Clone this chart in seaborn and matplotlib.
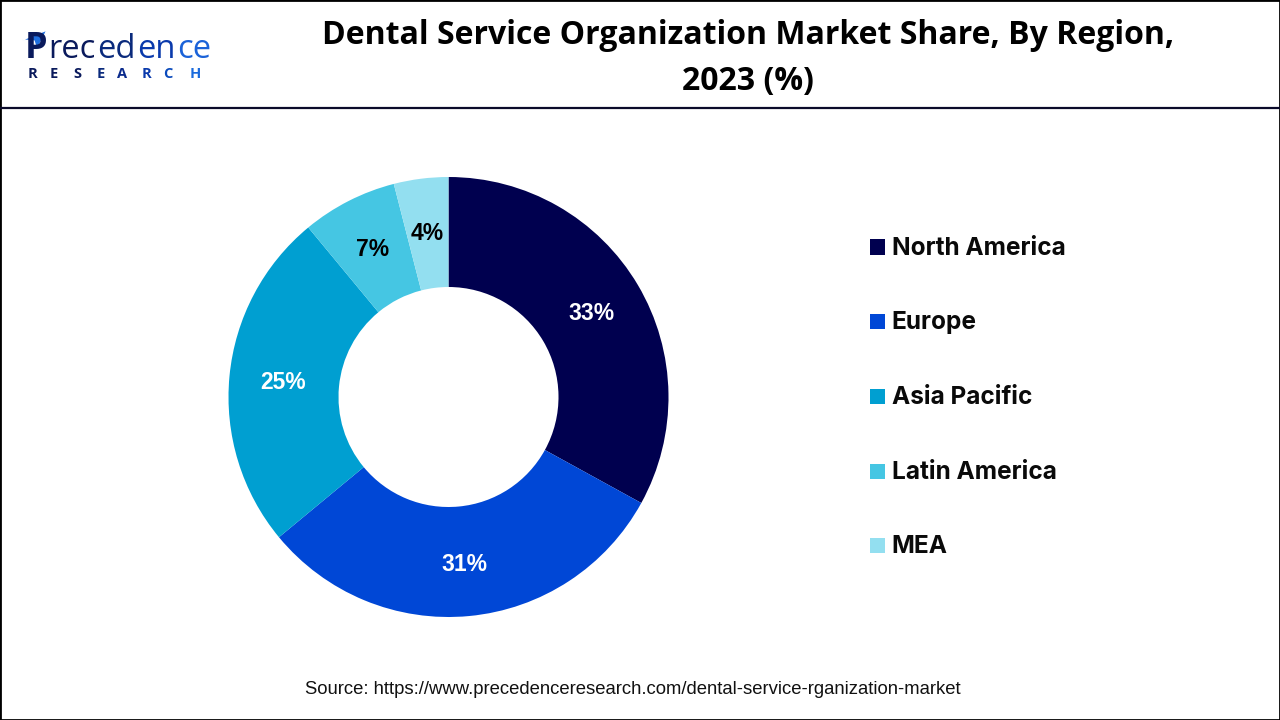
import numpy as np
import matplotlib
matplotlib.use("Agg")
import matplotlib.pyplot as plt
import seaborn as sns
from matplotlib.patches import Rectangle, Polygon

regions = ["North America", "Europe", "Asia Pacific", "Latin America", "MEA"]
shares = [33, 31, 25, 7, 4]
colors = ["#00004f", "#0047d6", "#009fd1", "#45c6e3", "#93dff0"]
label_colors = ["white", "white", "white", "black", "black"]
title_lines = ["Dental Service Organization Market Share, By Region,", "2023 (%)"]
source = "Source: https://www.precedenceresearch.com/dental-service-rganization-market"

W, H = 1280, 720

sns.set_theme(style="white")
plt.rcParams["font.family"] = ["Liberation Sans", "DejaVu Sans"]

fig = plt.figure(figsize=(W / 100, H / 100), dpi=100, facecolor="white")

# donut, centre about (448, 397), radius 220 px
ax = fig.add_axes([(448.5 - 225) / W, 1 - (397 + 225) / H, 450 / W, 450 / H])
ax.pie(shares, colors=colors, startangle=90, counterclock=False, radius=220 / 225,
       wedgeprops=dict(width=110 / 225, edgecolor="none"))
ax.set_xlim(-1, 1)
ax.set_ylim(-1, 1)

# percent labels placed from the wedge angles
running = 0
for val, col in zip(shares, label_colors):
    mid = (running + val / 2) / sum(shares) * 2 * np.pi
    running += val
    ax.text(0.74 * np.sin(mid), 0.74 * np.cos(mid) - 0.006, f"{val}%", ha="center", va="center",
            color=col, fontsize=16.5, fontweight="bold")

# legend
legend_y = [247, 321, 396, 471, 545]
for name, col, y in zip(regions, colors, legend_y):
    fig.add_artist(Rectangle((870 / W, 1 - (y + 7.5) / H), 15 / W, 15 / H, transform=fig.transFigure,
                             facecolor=col, edgecolor="none"))
    fig.text(891.5 / W, 1 - (y - 1) / H, name, ha="left", va="center_baseline", fontsize=17.6, fontweight="bold",
             family=["Inter", "DejaVu Sans"], color="#0a0a0a")

# title and header
for line, y in zip(title_lines, [35.5, 81.5]):
    fig.text(748 / W, 1 - y / H, line, ha="center", va="center", fontsize=23.05, fontweight="bold",
             family=["Open Sans", "DejaVu Sans"], color="black")
fig.add_artist(plt.Line2D([0, 1], [1 - 107.5 / H] * 2, color="#0a0a2a", lw=1.6))
fig.add_artist(Rectangle((0, 0), 1, 1, transform=fig.transFigure, fill=False, edgecolor="black", lw=2))

# logo drawn as text, colour chunks laid out one after the other
logo_font = ["Open Sans", "DejaVu Sans"]
fig.text(24.5 / W, 1 - 58 / H, "P", ha="left", va="baseline", fontsize=26, fontweight="bold",
         family=logo_font, color="#0a1a5c")
fig.add_artist(Polygon([(47 / W, 1 - 30 / H), (22 / W, 1 - 40 / H), (34 / W, 1 - 41 / H), (37 / W, 1 - 50 / H)],
                       closed=True, transform=fig.transFigure, facecolor="#1f6fe0", edgecolor="white", lw=1))
renderer = fig.canvas.get_renderer()
x = 48.5
for chunk, col in zip(["rec", "ed", "en", "ce"], ["#0a1a5c", "#0a2a7c", "#0a3aac", "#1a62d8"]):
    t = fig.text(x / W, 1 - 58 / H, chunk, ha="left", va="baseline", fontsize=23.5,
                 family=logo_font, color=col, fontweight="medium")
    x += t.get_window_extent(renderer).width + 1.5
for ch, lx, col in zip("RESEARCH", [28, 50, 73, 97, 117, 142, 163, 190],
                       ["#0a1a5c", "#0a1a5c", "#0a1a5c", "#0a2a7c", "#0a2a8c", "#0a3aac", "#0a4abc", "#1a6adc"]):
    fig.text(lx / W, 1 - 78 / H, ch, ha="left", va="baseline", fontsize=10.5,
             family=logo_font, color=col, fontweight="bold")

# source
fig.text(633 / W, 1 - 689 / H, source, ha="center", va="center", fontsize=13.35, color="#111111")

fig.savefig("out.png", dpi=100)
